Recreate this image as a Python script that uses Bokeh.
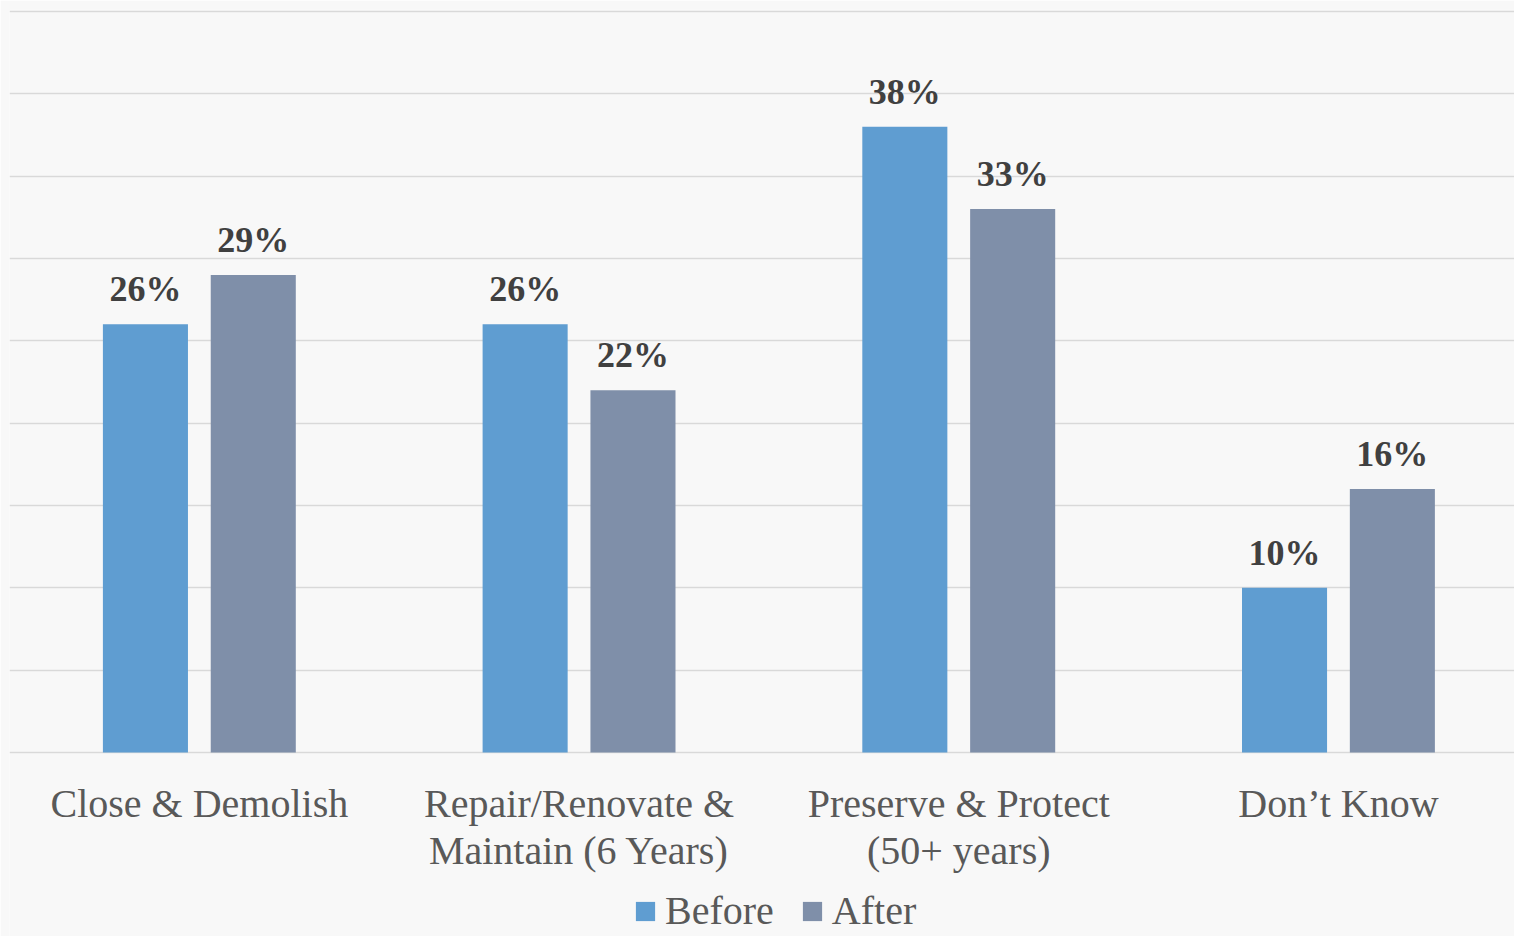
from bokeh.plotting import figure
from bokeh.models import (ColumnDataSource, Range1d, FixedTicker, Legend, LegendItem)
from bokeh.core.properties import value
from bokeh.embed import file_html
from bokeh.resources import INLINE

# Survey responses, share of respondents (%)
categories = ["Close & Demolish", "Repair/Renovate &\nMaintain (6 Years)",
              "Preserve & Protect\n(50+ years)", "Don\u2019t Know"]
before = [26, 26, 38, 10]
after = [29, 22, 33, 16]
series_names = ["Before", "After"]
y_ticks = [0, 5, 10, 15, 20, 25, 30, 35, 40, 45]

BLUE = "#5F9DD1"
SLATE = "#7F8FA9"
BG = "#f8f8f8"
FONT = "Liberation Serif"

centers = [i + 0.5 for i in range(len(categories))]
offset = 0.142
bar_w = 0.224

# value axis: 0..45 spans 741 px (baseline at 752, top line at 11); the frame
# continues below zero to hold the category labels and the legend
TOP_PAD = 2
px_per_unit = 741 / 45
y_top = 45 + TOP_PAD / px_per_unit
y_bottom = -(936 - 11 - 741) / px_per_unit

src_before = ColumnDataSource(dict(
    x=[c - offset for c in centers], top=before,
    label=[f"{v}%" for v in before]))
src_after = ColumnDataSource(dict(
    x=[c + offset for c in centers], top=after,
    label=[f"{v}%" for v in after]))
src_cat = ColumnDataSource(dict(x=centers, y=[0] * len(centers), text=categories))

p = figure(width=1514, height=936, output_backend="svg", toolbar_location=None,
           x_range=Range1d(0, 1505 / 379.7), y_range=Range1d(y_bottom, y_top),
           min_border_left=9, min_border_right=0, min_border_top=11 - TOP_PAD,
           min_border_bottom=0)
p.background_fill_color = BG
p.border_fill_color = BG
p.outline_line_color = None
p.xaxis.visible = False
p.yaxis.visible = False

r_before = p.vbar(x="x", top="top", width=bar_w, bottom=0, source=src_before,
                  fill_color=BLUE, line_color=None)
r_after = p.vbar(x="x", top="top", width=bar_w, bottom=0, source=src_after,
                 fill_color=SLATE, line_color=None)

for src in (src_before, src_after):
    p.text(x="x", y="top", text="label", source=src, text_align="center",
           text_baseline="alphabetic", y_offset=-35,
           text_font=value(FONT), text_font_style="bold",
           text_font_size="36px", text_color="#404040")

# category labels under the baseline
p.text(x="x", y="y", text="text", source=src_cat, text_align="center",
       text_baseline="top", y_offset=28, text_line_height=1.05,
       text_font=value(FONT), text_font_size="40px", text_color="#595959")

# horizontal grid, 0..45 only
p.xgrid.visible = False
p.ygrid.ticker = FixedTicker(ticks=y_ticks)
p.ygrid.grid_line_color = "#d9d9d9"
p.ygrid.grid_line_width = 1.6

legend = Legend(items=[LegendItem(label=series_names[0], renderers=[r_before]),
                       LegendItem(label=series_names[1], renderers=[r_after])],
                location=(624, 2), orientation="horizontal",
                glyph_width=24, glyph_height=24, label_standoff=8,
                spacing=26, padding=0, margin=0,
                label_text_font=FONT, label_text_font_size="40px",
                label_text_color="#595959",
                border_line_color=None, background_fill_alpha=0)
p.add_layout(legend, "center")

open("out.html", "w").write(file_html(p, INLINE))
